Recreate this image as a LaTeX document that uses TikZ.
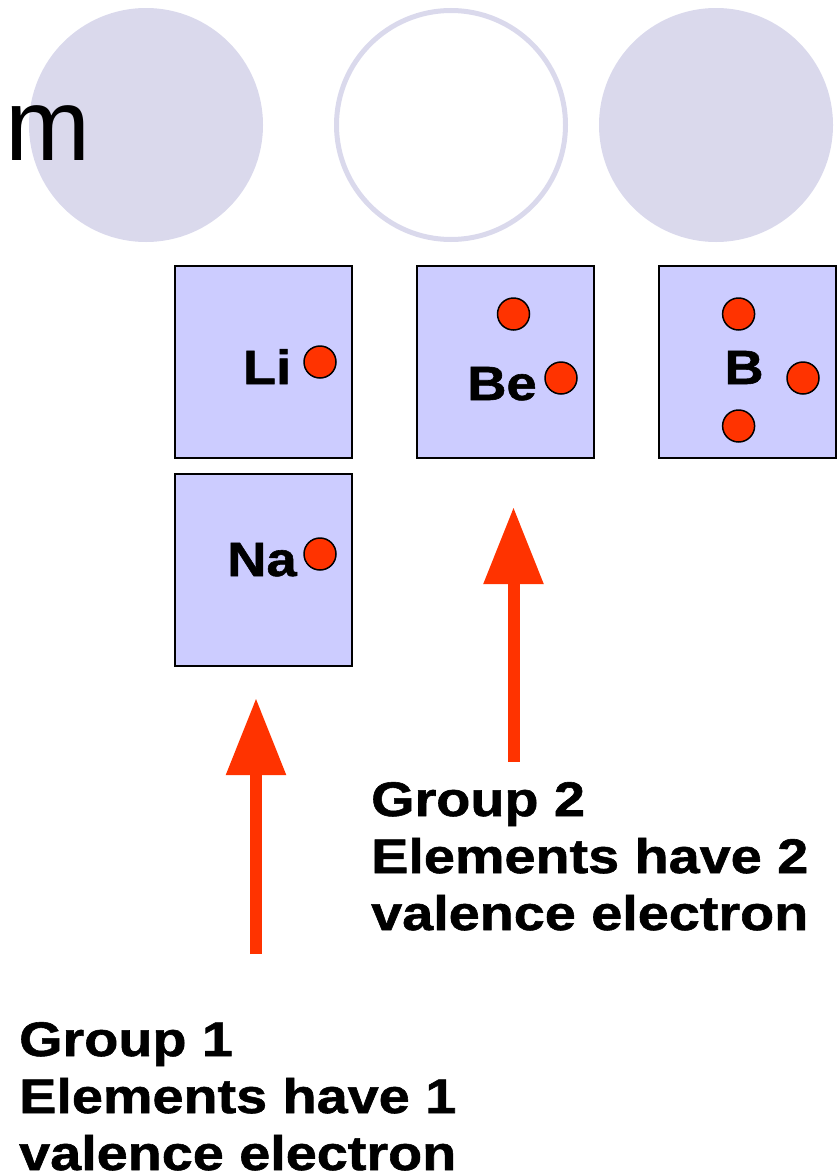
\documentclass[tikz,border=0pt]{standalone}
\usepackage{fontspec}
\usetikzlibrary{arrows.meta,shapes.geometric}
\newfontfamily\plainsans{Liberation Sans}
\newfontfamily\heavy[FakeStretch=1.13,FakeBold=1.2]{Liberation Sans Bold}
\newfontfamily\heavywide[FakeStretch=1.15,FakeBold=1.2]{Liberation Sans Bold}
\definecolor{ringlav}{RGB}{218,217,236}
\definecolor{boxlav}{RGB}{204,204,255}
\definecolor{elred}{RGB}{255,51,0}
\tikzset{
  ring/.style={circle,minimum size=234pt,inner sep=0pt},
  ringfill/.style={ring,fill=ringlav},
  ringline/.style={ring,draw=ringlav,line width=5pt,minimum size=229pt},
  elbox/.style={rectangle,draw=black,line width=2pt,fill=boxlav,minimum width=177pt,minimum height=192pt,inner sep=0pt},
  electron/.style={ellipse,draw=black,line width=1.5pt,fill=elred,minimum width=32pt,minimum height=32pt,inner sep=0pt},
  sym/.style={font=\heavy\fontsize{48}{48}\selectfont,inner sep=0pt,anchor=base},
  grouptxt/.style={font=\heavywide\fontsize{48.5}{57}\selectfont,inner sep=0pt,align=left,anchor=base west},
  bigarrow/.style={draw=elred,line width=12pt,-{Triangle[length=77pt,width=57pt]}}
}
\begin{document}
\begin{tikzpicture}[x=1pt,y=-1pt]
\useasboundingbox (0,0) rectangle (839,1175);
% top rings
\node[ringfill] (c1) at (146,125) {};
\node[ringline] (c2) at (451,125) {};
\node[ringfill] (c3) at (716,125) {};
\node[font=\plainsans\fontsize{102}{102}\selectfont,inner sep=0pt,anchor=base west] (m) at (5,160) {m};
% element boxes
\node[elbox] (li) at (263.5,362) {};
\node[elbox] (be) at (505.5,362) {};
\node[elbox] (b) at (747,362) {};
\node[elbox] (na) at (263.5,570) {};
% symbols
\node[sym] (lit) at (267,384) {Li};
\node[sym] (bet) at (502,400) {Be};
\node[sym] (bt) at (744,384) {B};
\node[sym] (nat) at (262,576) {Na};
% electrons
\node[electron] (e1) at (320,362) {};
\node[electron] (e2) at (513.5,314) {};
\node[electron] (e3) at (561,378) {};
\node[electron] (e4) at (738.6,314) {};
\node[electron] (e5) at (803,378) {};
\node[electron] (e6) at (738.6,426) {};
\node[electron] (e7) at (320,554) {};
% arrows
\coordinate (a2s) at (513.5,761.7);
\coordinate (a2t) at (513.5,507);
\coordinate (a1s) at (256,954);
\coordinate (a1t) at (256,698);
\draw[bigarrow] (a2s) -- (a2t);
\draw[bigarrow] (a1s) -- (a1t);
% captions (anchor = baseline of last line)
\node[grouptxt] (g2) at (371,930) {Group 2\\Elements have 2\\valence electron};
\node[grouptxt] (g1) at (19,1170) {Group 1\\Elements have 1\\valence electron};
\end{tikzpicture}
\end{document}
